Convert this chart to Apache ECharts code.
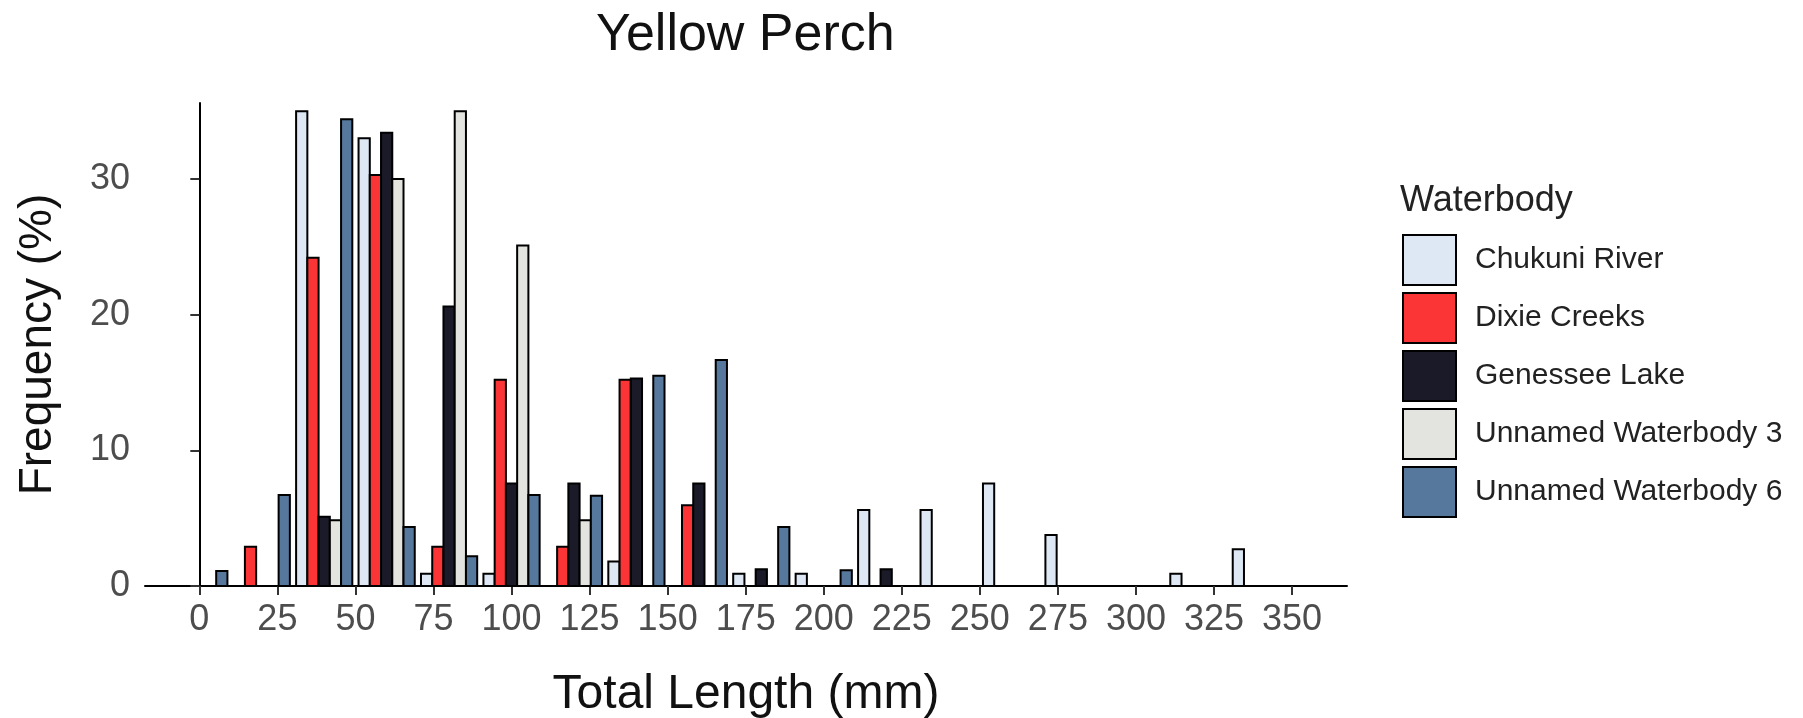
<!DOCTYPE html>
<html>
<head>
<meta charset="utf-8">
<style>
  html, body { margin: 0; padding: 0; background: #fff; }
  #chart { width: 1803px; height: 718px; }
</style>
<script src="https://cdn.jsdelivr.net/npm/echarts@6/dist/echarts.min.js"></script>
</head>
<body>
<div id="chart"></div>
<script>
// ---- data ----
const binCenters = [0, 20, 40, 60, 80, 100, 120, 140, 160, 180, 200, 220, 240, 260, 280, 300, 320, 340];
const seriesNames = ['Chukuni River', 'Dixie Creeks', 'Genessee Lake', 'Unnamed Waterbody 3', 'Unnamed Waterbody 6'];
const chukuniRiver     = [0, 0, 35.0, 33.0, 0.9, 0.9, 0, 1.8, 0, 0.9, 0.9, 5.6, 5.6, 7.55, 3.75, 0, 0.9, 2.7];
const dixieCreeks      = [0, 2.9, 24.2, 30.3, 2.9, 15.2, 2.9, 15.2, 5.95, 0, 0, 0, 0, 0, 0, 0, 0, 0];
const genesseeLake     = [0, 0, 5.1, 33.4, 20.6, 7.55, 7.55, 15.3, 7.55, 1.23, 0, 1.23, 0, 0, 0, 0, 0, 0];
const unnamedWB3       = [0, 0, 4.85, 30.0, 35.0, 25.1, 4.85, 0, 0, 0, 0, 0, 0, 0, 0, 0, 0, 0];
const unnamedWB6       = [1.1, 6.7, 34.4, 4.35, 2.2, 6.7, 6.65, 15.5, 16.65, 4.35, 1.16, 0, 0, 0, 0, 0, 0, 0];
const xTickValues = [0, 25, 50, 75, 100, 125, 150, 175, 200, 225, 250, 275, 300, 325, 350];
const yTickValues = [0, 10, 20, 30];

// ---- styles ----
const seriesColors = ['#dde8f4', '#fb3535', '#1a1a28', '#e3e3df', '#56789d'];
const allValues = [chukuniRiver, dixieCreeks, genesseeLake, unnamedWB3, unnamedWB6];
const BIN_WIDTH = 20;
const GROUP_FRACTION = 0.9;
const SLOT = BIN_WIDTH * GROUP_FRACTION / seriesNames.length;
const FONT = "'Liberation Sans', Arial, Helvetica, sans-serif";

function renderBar(params, api) {
  const x = api.value(0);
  const v = api.value(1);
  const s = params.seriesIndex;
  const x0 = x - BIN_WIDTH * GROUP_FRACTION / 2 + s * SLOT;
  const pTop = api.coord([x0, v]);
  const pBot = api.coord([x0 + SLOT, 0]);
  return {
    type: 'rect',
    shape: { x: pTop[0], y: pTop[1], width: pBot[0] - pTop[0], height: pBot[1] - pTop[1] },
    style: api.style({ stroke: '#000', lineWidth: 2 })
  };
}

const series = seriesNames.map((name, i) => ({
  name: name,
  type: 'custom',
  renderItem: renderBar,
  itemStyle: { color: seriesColors[i], borderColor: '#000', borderWidth: 2 },
  encode: { x: 0, y: 1 },
  data: binCenters.map((b, k) => [b, allValues[i][k]]).filter(d => d[1] > 0)
}));

const chart = echarts.init(document.getElementById('chart'), null, { renderer: 'canvas' });
chart.setOption({
  backgroundColor: '#ffffff',
  animation: false,
  textStyle: { fontFamily: FONT },
  title: [
    {
      text: 'Yellow Perch',
      left: 596, top: 10, padding: 0,
      textStyle: { fontFamily: FONT, fontSize: 52, fontWeight: 'normal', color: '#111' }
    },
    {
      text: 'Waterbody',
      left: 1400, top: 183, padding: 0,
      textStyle: { fontFamily: FONT, fontSize: 36, fontWeight: 'normal', color: '#222' }
    }
  ],
  legend: {
    orient: 'vertical',
    left: 1402, top: 234,
    padding: 0,
    itemWidth: 53, itemHeight: 50, itemGap: 6,
    icon: 'rect',
    selectedMode: false,
    textStyle: { fontFamily: FONT, fontSize: 30, color: '#222', padding: [0, 0, 0, 14] },
    data: seriesNames.map((n, i) => ({
      name: n,
      icon: 'rect',
      itemStyle: { color: seriesColors[i], borderColor: '#000', borderWidth: 2 }
    }))
  },
  grid: { left: 145, right: 456, top: 103, bottom: 132, containLabel: false, outerBoundsMode: 'none' },
  xAxis: {
    type: 'value',
    min: -17.4, max: 367.6,
    name: 'Total Length (mm)',
    nameLocation: 'middle',
    nameGap: 85,
    nameTextStyle: { fontFamily: FONT, fontSize: 48, color: '#111' },
    axisLine: { show: true, onZero: false, lineStyle: { color: '#000', width: 2 } },
    axisTick: { show: true, length: 9, customValues: xTickValues, lineStyle: { color: '#333', width: 2 } },
    axisLabel: { customValues: xTickValues, margin: 16, fontFamily: FONT, fontSize: 36, color: '#4d4d4d' },
    splitLine: { show: false }
  },
  yAxis: {
    type: 'value',
    min: 0, max: 35.6,
    name: 'Frequency (%)',
    nameLocation: 'middle',
    nameGap: 84,
    nameRotate: 90,
    nameTextStyle: { fontFamily: FONT, fontSize: 46, color: '#111' },
    axisLine: { show: true, lineStyle: { color: '#000', width: 2 } },
    axisTick: { show: true, length: 9, customValues: yTickValues, lineStyle: { color: '#333', width: 2 } },
    axisLabel: { customValues: yTickValues, margin: 15, fontFamily: FONT, fontSize: 36, color: '#4d4d4d' },
    splitLine: { show: false }
  },
  series: series
});
</script>
</body>
</html>
